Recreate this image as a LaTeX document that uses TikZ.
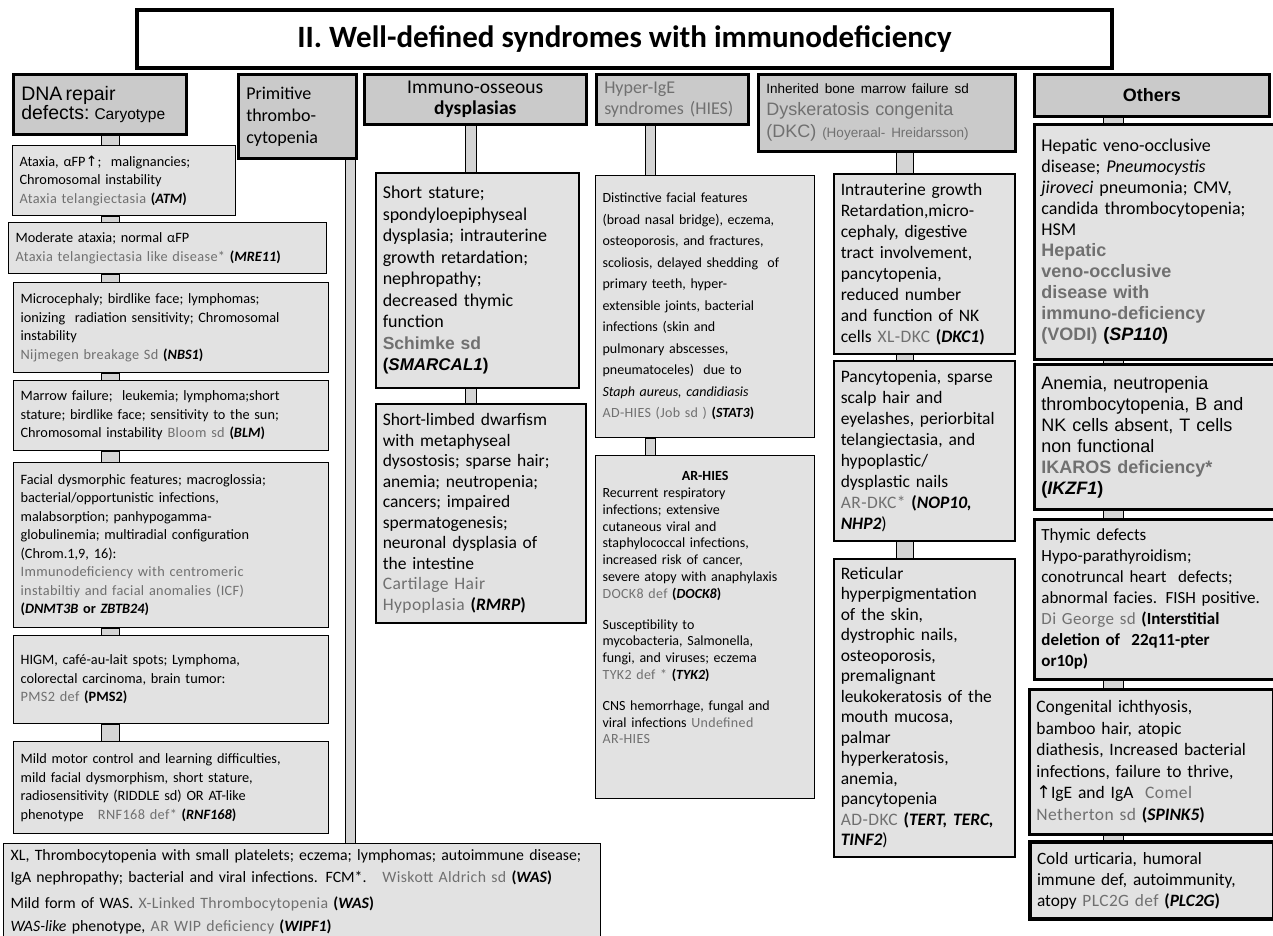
\documentclass[tikz,border=0pt]{standalone}
\usepackage{fontspec}
\setmainfont{Carlito}
\newfontfamily\arialf{Liberation Sans}
\newfontfamily\symf{DejaVu Sans}
\newfontfamily\dnf[LetterSpace=2.5]{Carlito}
\usetikzlibrary{positioning}
\definecolor{boxfill}{HTML}{E2E2E2}
\definecolor{headfill}{HTML}{CACACA}
\definecolor{linkfill}{HTML}{D4D4D4}
\definecolor{dname}{HTML}{707070}
\newcommand{\dn}[1]{{\dnf\color{dname}#1}}
\newcommand{\dna}[1]{\textcolor{dname}{#1}}
\newcommand{\gene}[1]{\textbf{(\textit{#1})}}
\newcommand{\uparr}{{\symf\char"2191}}
\newcommand{\vodif}{\arialf\bfseries\fontsize{18}{21}\selectfont}

\begin{document}
\begin{tikzpicture}[x=1pt, y=-1pt]
    \tikzset{
        ttl/.style={draw, line width=4pt, fill=white, anchor=north west, align=center,
            font=\bfseries\fontsize{31}{36}\selectfont},
        hdr/.style={draw, line width=2.5pt, fill=headfill, anchor=north west, align=left,
            inner xsep=8pt, inner ysep=3pt},
        cbox/.style={draw, line width=1.2pt, fill=boxfill, anchor=north west, align=left,
            inner xsep=7pt, inner ysep=4pt, font=\fontsize{14.3}{18.5}\selectfont},
        obox/.style={cbox, line width=2.8pt},
        link/.style={draw, line width=1pt, fill=linkfill},
    }
    \useasboundingbox (0,0) rectangle (1273,935);
    \fill[white] (0,0) rectangle (1273,935);

    % title
    \node[ttl, minimum width=975, minimum height=58] (title) at (135,8)
        {II. Well-defined syndromes with immunodeficiency};

    % column headers
    \node[hdr, minimum width=173, minimum height=60, text width=157] (dna) at (12,73)
        {\arialf\fontsize{19.5}{25}\selectfont DNA repair\\defects: {\fontsize{15.5}{18}\selectfont Caryotype}};
    \node[hdr, minimum width=118, minimum height=84, text width=102,
        font=\fontsize{18}{22}\selectfont] (prim) at (237,73)
        {Primitive\\thrombo-\\cytopenia};
    \node[hdr, minimum width=222, minimum height=50, text width=206, align=center,
        font=\fontsize{19.5}{21}\selectfont] (oss) at (363,73)
        {Immuno-osseous\\\textbf{dysplasias}};
    \node[hdr, minimum width=152, minimum height=50, text width=136,
        font=\fontsize{18}{21}\selectfont] (hies) at (595,73)
        {\dna{Hyper-IgE}\\\dna{syndromes (HIES)}};
    \node[hdr, minimum width=257, minimum height=77, text width=241,
        font=\arialf\fontsize{18}{22}\selectfont] (dkc) at (757,73)
        {{\fontsize{13.5}{16}\selectfont Inherited bone marrow failure sd}\\
         \dna{Dyskeratosis congenita}\\
         \dna{(DKC) {\fontsize{13.5}{16}\selectfont(Hoyeraal- Hreidarsson)}}};
    \node[hdr, minimum width=235, minimum height=42, text width=219, align=center,
        font=\arialf\bfseries\fontsize{18}{21}\selectfont] (oth) at (1033,73) {Others};

    % DNA repair defects
    \node[cbox, minimum width=223, minimum height=70, text width=209] (atm) at (12,145)
        {Ataxia, αFP\uparr;\ \ malignancies;\\Chromosomal instability\\
         \dn{Ataxia telangiectasia} \gene{ATM}};
    \node[cbox, minimum width=318, minimum height=51, text width=304] (mre) at (8,222)
        {Moderate ataxia; normal αFP\\\dn{Ataxia telangiectasia like disease*} \gene{MRE11}};
    \node[cbox, minimum width=315, minimum height=90, text width=301] (nbs) at (13,282)
        {Microcephaly; birdlike face; lymphomas;\\ionizing\ \ radiation sensitivity; Chromosomal\\
         instability\\\dn{Nijmegen breakage Sd} \gene{NBS1}};
    \node[cbox, minimum width=315, minimum height=70, text width=301] (blm) at (13,380)
        {Marrow failure;\ \ leukemia; lymphoma;short\\stature; birdlike face; sensitivity to the sun;\\
         Chromosomal instability \dn{Bloom sd} \gene{BLM}};
    \node[cbox, minimum width=315, minimum height=165, text width=301] (icf) at (13,462)
        {Facial dysmorphic features; macroglossia;\\bacterial/opportunistic infections,\\
         malabsorption; panhypogamma-\\globulinemia; multiradial configuration\\(Chrom.1,9, 16):\\
         \dn{Immunodeficiency with centromeric}\\\dn{instabiltiy and facial anomalies (ICF)}\\
         \textbf{(\textit{DNMT3B} or \textit{ZBTB24})}};
    \node[cbox, minimum width=315, minimum height=88, text width=301] (pms) at (13,635)
        {HIGM, café-au-lait spots; Lymphoma,\\colorectal carcinoma, brain tumor:\\
         \dn{PMS2 def} \textbf{(PMS2)}};
    \node[cbox, minimum width=315, minimum height=92, text width=301] (rnf) at (13,741)
        {Mild motor control and learning difficulties,\\mild facial dysmorphism, short stature,\\
         radiosensitivity (RIDDLE sd) OR AT-like\\phenotype\quad\dn{RNF168 def*} \gene{RNF168}};

    % primitive thrombocytopenia
    \node[cbox, minimum width=597, minimum height=97, text width=583,
        font=\fontsize{15.8}{22}\selectfont] (was) at (3,843)
        {XL, Thrombocytopenia with small platelets; eczema; lymphomas; autoimmune disease;\\
         IgA nephropathy; bacterial and viral infections. FCM*.\quad\dn{Wiskott Aldrich sd} \gene{WAS}\\[4pt]
         Mild form of WAS. \dn{X-Linked Thrombocytopenia} \gene{WAS}\\[1pt]
         \textit{WAS-like} phenotype, \dn{AR WIP deficiency} \gene{WIPF1}};

    % immuno-osseous dysplasias
    \node[cbox, line width=1.5pt, minimum width=203, minimum height=215, text width=189,
        font=\fontsize{18}{21.5}\selectfont] (smarcal) at (375,172)
        {Short stature;\\spondyloepiphyseal\\dysplasia; intrauterine\\growth retardation;\\
         nephropathy;\\decreased thymic\\function\\
         {\arialf\bfseries\fontsize{17.5}{21}\selectfont\dna{Schimke sd}}\\
         {\arialf\bfseries\fontsize{17}{21}\selectfont(\textit{SMARCAL1})}};
    \node[cbox, line width=1.5pt, minimum width=210, minimum height=219, text width=196,
        font=\fontsize{17.5}{20.5}\selectfont] (rmrp) at (375,403)
        {Short-limbed dwarfism\\with metaphyseal\\dysostosis; sparse hair;\\anemia; neutropenia;\\
         cancers; impaired\\spermatogenesis;\\neuronal dysplasia of\\the intestine\\
         \dn{Cartilage Hair}\\\dn{Hypoplasia} \gene{RMRP}};

    % hyper-IgE syndromes
    \node[cbox, minimum width=219, minimum height=262, text width=205,
        font=\fontsize{14}{21.5}\selectfont] (stat3) at (595,175)
        {Distinctive facial features\\(broad nasal bridge), eczema,\\osteoporosis, and fractures,\\
         scoliosis, delayed shedding\ \ of\\primary teeth, hyper-\\extensible joints, bacterial\\
         infections (skin and\\pulmonary abscesses,\\pneumatoceles)\ \ due to\\
         \textit{Staph aureus, candidiasis}\\\dn{AD-HIES (Job sd )} \gene{STAT3}};
    \node[cbox, minimum width=219, minimum height=343, text width=205,
        font=\fontsize{14}{16.8}\selectfont] (arhies) at (595,455)
        {\makebox[205pt]{\textbf{AR-HIES}}\\Recurrent respiratory\\infections; extensive\\
         cutaneous viral and\\staphylococcal infections,\\increased risk of cancer,\\
         severe atopy with anaphylaxis\\\dn{DOCK8 def} \gene{DOCK8}\\[14pt]
         Susceptibility to\\mycobacteria, Salmonella,\\fungi, and viruses; eczema\\
         \dn{TYK2 def *} \gene{TYK2}\\[14pt]
         CNS hemorrhage, fungal and\\viral infections \dn{Undefined}\\\dn{AR-HIES}\\[22pt]\mbox{}};

    % dyskeratosis congenita
    \node[cbox, line width=1.5pt, minimum width=181, minimum height=180, text width=167,
        font=\fontsize{17.5}{21}\selectfont] (dkc1) at (833,173)
        {Intrauterine growth\\Retardation,micro-\\cephaly, digestive\\tract involvement,\\
         pancytopenia,\\reduced number\\and function of NK\\cells \dn{XL-DKC} \gene{DKC1}};
    \node[cbox, line width=1.5pt, minimum width=181, minimum height=180, text width=167,
        font=\fontsize{17.5}{21}\selectfont] (nop) at (833,360)
        {Pancytopenia, sparse\\scalp hair and\\eyelashes, periorbital\\telangiectasia, and\\
         hypoplastic/\\dysplastic nails\\\dn{AR-DKC*} \textbf{(\textit{NOP10,}}\\
         \textbf{\textit{NHP2}})};
    \node[cbox, line width=1.5pt, minimum width=181, minimum height=298, text width=167,
        font=\fontsize{17.5}{20.5}\selectfont] (tert) at (833,558)
        {Reticular\\hyperpigmentation\\of the skin,\\dystrophic nails,\\osteoporosis,\\
         premalignant\\leukokeratosis of the\\mouth mucosa,\\palmar\\hyperkeratosis,\\
         anemia,\\pancytopenia\\\dn{AD-DKC} \textbf{(\textit{TERT, TERC,}}\\
         \textbf{\textit{TINF2}})};

    % others
    \node[obox, minimum width=245, minimum height=235, text width=231,
        font=\fontsize{18}{21}\selectfont] (vodi) at (1033,123)
        {Hepatic veno-occlusive\\disease; \textit{Pneumocystis}\\\textit{jiroveci} pneumonia; CMV,\\
         candida thrombocytopenia;\\HSM\\
         {\vodif\dna{Hepatic}}\\{\vodif\dna{veno-occlusive}}\\{\vodif\dna{disease with}}\\
         {\vodif\dna{immuno-deficiency}}\\{\vodif\dna{(VODI)} (\textit{SP110})}};
    \node[obox, minimum width=245, minimum height=145, text width=231,
        font=\arialf\fontsize{18}{21}\selectfont] (ikzf) at (1033,363)
        {Anemia, neutropenia\\thrombocytopenia, B and\\NK cells absent, T cells\\non functional\\
         \textbf{\dna{IKAROS deficiency*}}\\\textbf{(\textit{IKZF1})}};
    \node[obox, minimum width=245, minimum height=160, text width=231,
        font=\fontsize{17}{21}\selectfont] (dig) at (1033,518)
        {Thymic defects\\Hypo-parathyroidism;\\conotruncal heart\ \ defects;\\
         abnormal facies. FISH positive.\\\dn{Di George sd} \textbf{(Interstitial}\\
         \textbf{deletion of\ \ 22q11-pter}\\\textbf{or10p)}};
    \node[obox, minimum width=244, minimum height=145, text width=230,
        font=\fontsize{17.5}{21.5}\selectfont] (spink) at (1028,688)
        {Congenital ichthyosis,\\bamboo hair, atopic\\diathesis, Increased bacterial\\
         infections, failure to thrive,\\\uparr IgE and IgA\ \ \dn{Comel}\\
         \dn{Netherton sd} \gene{SPINK5}};
    \node[obox, line width=4pt, minimum width=244, minimum height=77, text width=230,
        font=\fontsize{17.3}{21}\selectfont] (plc) at (1028,840)
        {Cold urticaria, humoral\\immune def, autoimmunity,\\atopy \dn{PLC2G def} \gene{PLC2G}};

    % connectors
    \draw[link] (dna.south -| 101,0) rectangle (atm.north -| 119,0);
    \draw[link] (atm.south -| 101,0) rectangle (mre.north -| 119,0);
    \draw[link] (mre.south -| 101,0) rectangle (nbs.north -| 119,0);
    \draw[link] (nbs.south -| 101,0) rectangle (blm.north -| 119,0);
    \draw[link] (blm.south -| 101,0) rectangle (icf.north -| 119,0);
    \draw[link] (icf.south -| 101,0) rectangle (pms.north -| 119,0);
    \draw[link] (pms.south -| 101,0) rectangle (rnf.north -| 119,0);
    \draw[link] (prim.south -| 345,0) rectangle (was.north -| 355,0);
    \draw[link] (oss.south -| 465,0) rectangle (smarcal.north -| 476,0);
    \draw[link] (smarcal.south -| 465,0) rectangle (rmrp.north -| 476,0);
    \draw[link] (hies.south -| 645,0) rectangle (stat3.north -| 655,0);
    \draw[link] (stat3.south -| 645,0) rectangle (arhies.north -| 655,0);
    \draw[link] (dkc.south -| 896,0) rectangle (dkc1.north -| 913,0);
    \draw[link] (dkc1.south -| 896,0) rectangle (nop.north -| 913,0);
    \draw[link] (nop.south -| 896,0) rectangle (tert.north -| 913,0);
    \draw[link] (oth.south -| 1103,0) rectangle (vodi.north -| 1123,0);
    \draw[link] (vodi.south -| 1103,0) rectangle (ikzf.north -| 1123,0);
    \draw[link] (ikzf.south -| 1103,0) rectangle (dig.north -| 1123,0);
    \draw[link] (dig.south -| 1103,0) rectangle (spink.north -| 1123,0);
    \draw[link] (spink.south -| 1103,0) rectangle (plc.north -| 1123,0);
\end{tikzpicture}
\end{document}
